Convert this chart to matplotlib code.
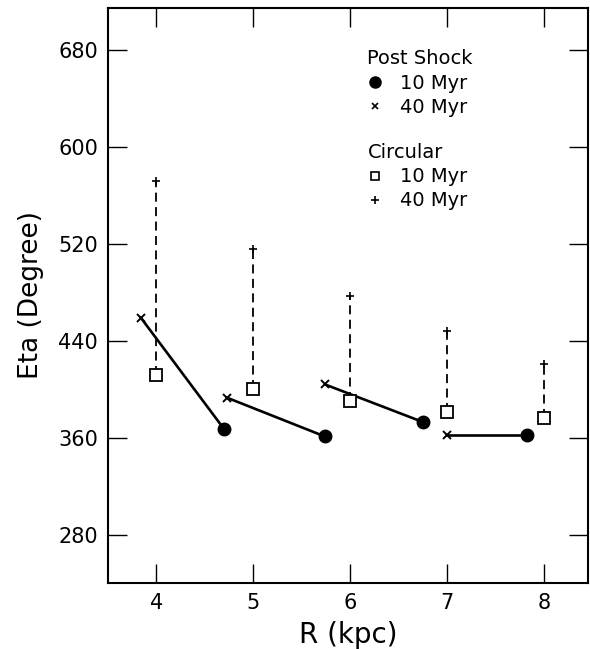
import matplotlib.pyplot as plt
from matplotlib.lines import Line2D

# Post shock orbits: 40 Myr (x) joined to 10 Myr (filled circle)
shock_r_40 = [3.84, 4.73, 5.74, 7.00]
shock_eta_40 = [459, 393, 404, 362]
shock_r_10 = [4.70, 5.74, 6.75, 7.83]
shock_eta_10 = [367, 361, 373, 362]

# Circular orbits: 10 Myr (square) joined to 40 Myr (plus), dashed
circ_r = [4, 5, 6, 7, 8]
circ_eta_10 = [412, 400, 390, 381, 376]
circ_eta_40 = [572, 516, 477, 448, 421]

x_ticks = [4, 5, 6, 7, 8]
y_ticks = [280, 360, 440, 520, 600, 680]

fig = plt.figure(figsize=(5.9, 6.49), dpi=100)
ax = fig.add_axes([0.183, 0.1017, 0.814, 0.8863])

for r0, e0, r1, e1 in zip(shock_r_40, shock_eta_40, shock_r_10, shock_eta_10):
    ax.plot([r0, r1], [e0, e1], color='black', lw=1.9, zorder=2)
ax.plot(shock_r_40, shock_eta_40, ls='none', marker='x', ms=6, mew=1.4, color='black', zorder=3)
ax.plot(shock_r_10, shock_eta_10, ls='none', marker='o', ms=9, color='black', zorder=3)

for r, e0, e1 in zip(circ_r, circ_eta_10, circ_eta_40):
    ax.plot([r, r], [e0, e1], color='black', lw=1.3, ls=(0, (5, 3)), zorder=2)
ax.plot(circ_r, circ_eta_10, ls='none', marker='s', ms=8, mew=1.3,
        mfc='white', mec='black', zorder=3)
ax.plot(circ_r, circ_eta_40, ls='none', marker='+', ms=6, mew=1.2, color='black', zorder=3)

ax.set_xlim(3.5, 8.46)
ax.set_ylim(240, 715)
ax.set_xticks(x_ticks)
ax.set_yticks(y_ticks)
ax.tick_params(direction='in', length=14, width=1.0, top=True, right=True,
               labelsize=15, pad=7)
for s in ax.spines.values():
    s.set_linewidth(1.5)

ax.set_xlabel('R (kpc)', fontsize=20, labelpad=6)
ax.set_ylabel('Eta (Degree)', fontsize=19, labelpad=10)

h1 = [Line2D([], [], ls='none', marker='o', ms=8, color='black'),
      Line2D([], [], ls='none', marker='x', ms=5, mew=1.2, color='black')]
h2 = [Line2D([], [], ls='none', marker='s', ms=6, mew=1.2, mfc='white', mec='black'),
      Line2D([], [], ls='none', marker='+', ms=6, mew=1.2, color='black')]
labels = ['10 Myr', '40 Myr']
kw = dict(frameon=False, fontsize=14, title_fontsize=14, handlelength=0.8,
          handletextpad=0.9, labelspacing=0.25, borderpad=0, alignment='left')
leg1 = ax.legend(h1, labels, title='Post Shock', loc='upper left',
                 bbox_to_anchor=(0.52, 0.945), **kw)
leg1._legend_box.sep = 4
ax.add_artist(leg1)
leg2 = ax.legend(h2, labels, title='Circular', loc='upper left',
                 bbox_to_anchor=(0.52, 0.782), **kw)
leg2._legend_box.sep = 4

fig.savefig('out.png', dpi=100)
